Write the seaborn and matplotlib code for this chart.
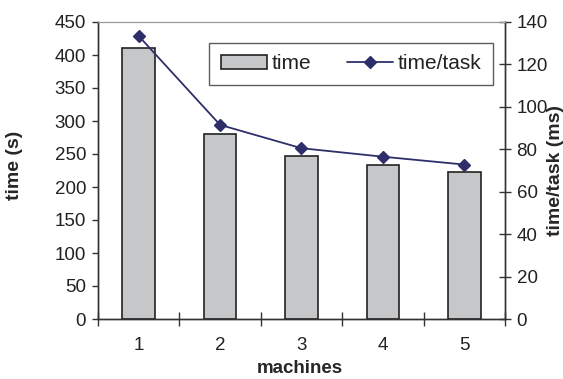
import matplotlib
matplotlib.use("Agg")
import matplotlib.pyplot as plt
import seaborn as sns
import numpy as np
import pandas as pd
from matplotlib.ticker import FixedLocator

machines = ["1", "2", "3", "4", "5"]
time_s = [410, 280, 247, 234, 223]
time_per_task = [133.4, 91.5, 80.5, 76.5, 72.8]
left_ticks = [0, 50, 100, 150, 200, 250, 300, 350, 400, 450]
right_ticks = [0, 20, 40, 60, 80, 100, 120, 140]

sns.set_theme(style="white")
plt.rcParams['font.family'] = ['Liberation Sans', 'DejaVu Sans']

df = pd.DataFrame({"machines": machines, "time": time_s, "tpt": time_per_task})

fig = plt.figure(figsize=(5.63, 3.79), dpi=100)
ax = fig.add_axes([98/563, 1-319/379, (505-98)/563, (319-22)/379])

sns.barplot(data=df, x="machines", y="time", ax=ax, color="#c6c7c9",
            edgecolor="#222222", linewidth=1.2, width=0.4, saturation=1, label="time")
if ax.get_legend() is not None:
    ax.get_legend().remove()
ax.set_ylim(0, 450)
ax.set_xlim(-0.5, 4.5)
ax.set_yticks(left_ticks)
ax.set_ylabel("time (s)", fontsize=14, fontweight="bold")
ax.yaxis.set_label_coords((23-98)/407, (319-165)/297)
ax.set_xlabel("machines", fontsize=13.5, fontweight="bold")
ax.xaxis.set_label_coords((300-98)/407, (319-360)/297)
ax.tick_params(axis="y", direction="out", length=4.5, width=1, color="#333333",
               labelsize=13.5, pad=4, left=True)
ax.tick_params(axis="x", which="major", length=0, labelsize=13.5, pad=13)
ax.xaxis.set_minor_locator(FixedLocator(np.arange(-0.5, 5.0, 1.0)))
ax.tick_params(axis="x", which="minor", direction="inout", length=9.4, width=1,
               color="#333333", bottom=True)

ax2 = ax.twinx()
sns.pointplot(data=df, x="machines", y="tpt", ax=ax2, color="#2e2f6a",
              markers="D", linestyles="-", linewidth=1.3, markersize=6.5,
              label="time/task")
ax2.set_ylim(0, 140)
ax2.set_xlim(-0.5, 4.5)
ax2.set_yticks(right_ticks)
ax2.set_ylabel("time/task (ms)", fontsize=14, fontweight="bold")
ax2.yaxis.set_label_coords((547-98)/407, (319-170)/297)
ax2.tick_params(axis="y", direction="inout", length=8.6, width=1, color="#333333",
                labelsize=13.5, pad=4, right=True)

for a in (ax, ax2):
    for s in ["left", "right", "bottom"]:
        a.spines[s].set_color("#333333")
        a.spines[s].set_linewidth(1)
    a.spines["top"].set_color("#999999")
    a.spines["top"].set_linewidth(0.8)

for t in ax.get_yticklabels() + ax2.get_yticklabels() + ax.get_xticklabels():
    t.set_color("#222222")

h1, l1 = ax.get_legend_handles_labels()
h2, l2 = ax2.get_legend_handles_labels()
leg = ax2.legend(h1 + h2, l1 + l2, ncol=2, loc="upper right",
                 bbox_to_anchor=((493-98)/407, 1-(43-22)/297),
                 borderaxespad=0, frameon=True, fancybox=False, edgecolor="#333333",
                 fontsize=15, handlelength=2.2, handleheight=0.63,
                 columnspacing=1.7, borderpad=0.55, handletextpad=0.25)
leg.get_frame().set_linewidth(1)
for t in leg.get_texts():
    t.set_color("#222222")

fig.savefig("out.png", dpi=100)
